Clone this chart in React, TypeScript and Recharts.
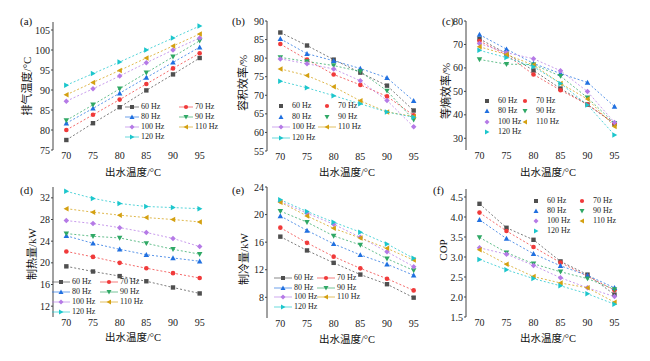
import React from 'react';
import { LineChart, Line, XAxis, YAxis } from 'recharts';

const outletTemps = [70, 75, 80, 85, 90, 95];
const freqLabels = ['60 Hz', '70 Hz', '80 Hz', '90 Hz', '100 Hz', '110 Hz', '120 Hz'];
const seriesColors = ['#4f4f4f', '#f03a3a', '#2070e0', '#2fa865', '#b57ae6', '#d4a011', '#1cc6cc'];
const markerShapes = ['square', 'circle', 'up', 'down', 'diamond', 'left', 'right'];

// one row per frequency, 60 Hz .. 120 Hz
const exhaustTemp = [
  [77.5, 81.7, 85.7, 89.9, 93.9, 98.0],
  [80.0, 83.8, 87.6, 91.5, 95.4, 99.2],
  [81.7, 85.4, 89.2, 93.1, 96.9, 100.7],
  [82.4, 86.3, 90.3, 94.3, 98.3, 102.3],
  [87.2, 90.3, 93.5, 96.8, 100.0, 103.0],
  [88.8, 91.9, 94.9, 98.0, 101.0, 104.0],
  [91.2, 94.1, 97.0, 100.0, 103.0, 106.0],
];

const volumetricEff = [
  [86.9, 83.4, 79.6, 76.1, 72.6, 65.9],
  [83.8, 79.6, 75.6, 72.8, 69.7, 64.6],
  [85.2, 81.2, 79.3, 77.2, 74.7, 68.5],
  [80.2, 79.1, 78.0, 76.4, 71.2, 63.4],
  [79.8, 78.5, 77.1, 73.9, 68.6, 61.5],
  [77.1, 75.3, 72.3, 68.5, 65.5, 64.3],
  [73.8, 72.0, 69.9, 67.7, 65.5, 64.1],
];

const isentropicEff = [
  [72.4, 66.1, 58.9, 51.2, 44.4, 36.1],
  [71.5, 65.5, 57.2, 50.5, 44.4, 36.4],
  [74.2, 68.0, 61.9, 57.6, 53.8, 43.5],
  [63.6, 61.6, 61.4, 56.5, 47.3, 36.4],
  [70.4, 66.5, 63.9, 58.8, 49.9, 36.7],
  [69.0, 65.7, 61.2, 53.4, 46.7, 35.0],
  [67.5, 64.4, 60.5, 53.4, 44.2, 31.4],
];

const heatingCap = [
  [19.35, 18.4, 17.55, 16.6, 15.45, 14.35],
  [22.1, 21.1, 20.0, 19.0, 18.1, 17.2],
  [25.0, 23.6, 22.5, 21.5, 20.9, 20.3],
  [25.4, 24.9, 24.6, 23.6, 22.5, 21.6],
  [27.8, 27.25, 26.5, 25.6, 24.5, 23.0],
  [30.0, 29.35, 28.8, 28.35, 28.0, 27.55],
  [33.2, 31.9, 30.95, 30.4, 30.2, 30.0],
];

const coolingCap = [
  [16.8, 14.8, 13.0, 11.3, 9.9, 7.95],
  [18.1, 15.9, 13.9, 12.2, 10.7, 9.0],
  [19.8, 17.7, 15.75, 14.15, 12.8, 11.2],
  [20.5, 18.9, 16.9, 15.6, 13.6, 11.9],
  [21.9, 20.2, 18.6, 16.7, 14.6, 12.45],
  [21.8, 19.8, 18.0, 16.6, 15.1, 13.4],
  [22.15, 20.45, 18.9, 17.45, 15.75, 13.65],
];

const cop = [
  [4.33, 3.73, 3.43, 2.89, 2.56, 2.06],
  [4.11, 3.65, 3.25, 2.86, 2.52, 2.17],
  [3.93, 3.46, 3.08, 2.78, 2.54, 2.23],
  [3.49, 3.11, 2.83, 2.63, 2.46, 2.19],
  [3.23, 3.07, 2.79, 2.48, 2.23, 2.01],
  [3.18, 2.82, 2.51, 2.35, 2.23, 1.87],
  [2.94, 2.68, 2.46, 2.28, 2.08, 1.82],
];

const serif = "'Liberation Serif', 'Times New Roman', serif";
const cjk = "'Liberation Serif', 'Noto Sans CJK SC', serif";
const xLabel = '出水温度/°C';

function Marker({ shape, cx, cy, color, r = 2.2 }: any) {
  const k = r * 1.25;
  switch (shape) {
    case 'square':
      return <rect x={cx - r} y={cy - r} width={2 * r} height={2 * r} fill={color} />;
    case 'circle':
      return <circle cx={cx} cy={cy} r={r * 1.05} fill={color} />;
    case 'up':
      return <polygon points={`${cx},${cy - k} ${cx + k},${cy + r} ${cx - k},${cy + r}`} fill={color} />;
    case 'down':
      return <polygon points={`${cx},${cy + k} ${cx + k},${cy - r} ${cx - k},${cy - r}`} fill={color} />;
    case 'diamond':
      return <polygon points={`${cx},${cy - k} ${cx + k},${cy} ${cx},${cy + k} ${cx - k},${cy}`} fill={color} />;
    case 'left':
      return <polygon points={`${cx - k},${cy} ${cx + r},${cy - k} ${cx + r},${cy + k}`} fill={color} />;
    default:
      return <polygon points={`${cx + k},${cy} ${cx - r},${cy - k} ${cx - r},${cy + k}`} fill={color} />;
  }
}

const panels = [
  {
    tag: '(a)', series: exhaustTemp, domain: [75, 107], ticks: [75, 80, 85, 90, 95, 100, 105],
    plot: { l: 53, t: 22, r: 213, b: 150 }, ylabel: '排气温度/°C', yl: [27, 86], xl: [133, 173], tagPos: [20, 15],
    legend: { l1: 125, l2: 179, sw: 14, y0: 107, dy: 10, lines: [1, 1, 1, 1, 1, 1, 1] },
  },
  {
    tag: '(b)', series: volumetricEff, domain: [55, 90], ticks: [55, 60, 65, 70, 75, 80, 85, 90],
    plot: { l: 267, t: 21, r: 427, b: 151 }, ylabel: '容积效率/%', yl: [243, 83], xl: [347, 173], tagPos: [232, 15],
    legend: { l1: 272, l2: 318, sw: 18, y0: 106, dy: 10.7, lines: [0, 0, 0, 0, 1, 1, 1] },
  },
  {
    tag: '(c)', series: isentropicEff, domain: [25, 80], ticks: [30, 40, 50, 60, 70, 80],
    plot: { l: 466, t: 21, r: 628, b: 150 }, ylabel: '等熵效率/%', yl: [446, 91], xl: [548, 173], tagPos: [442, 15],
    legend: { l1: 478, l2: 516, sw: 18, y0: 101, dy: 10.3, lines: [0, 0, 0, 0, 0, 0, 0] },
  },
  {
    tag: '(d)', series: heatingCap, domain: [10, 34], ticks: [12, 16, 20, 24, 28, 32],
    plot: { l: 53, t: 187, r: 213, b: 317 }, ylabel: '制热量/kW', yl: [32, 254], xl: [133, 338], tagPos: [20, 184],
    legend: { l1: 52, l2: 100, sw: 18, y0: 282, dy: 10, lines: [1, 1, 1, 1, 1, 1, 1] },
  },
  {
    tag: '(e)', series: coolingCap, domain: [5, 24], ticks: [8, 12, 16, 20, 24],
    plot: { l: 267, t: 187, r: 427, b: 318 }, ylabel: '制冷量/kW', yl: [244, 259], xl: [347, 340], tagPos: [232, 184],
    legend: { l1: 274, l2: 317, sw: 18, y0: 278, dy: 9.7, lines: [1, 1, 1, 1, 1, 1, 1] },
  },
  {
    tag: '(f)', series: cop, domain: [1.5, 4.7], ticks: [1.5, 2.0, 2.5, 3.0, 3.5, 4.0, 4.5],
    plot: { l: 466, t: 189, r: 628, b: 317 }, ylabel: 'COP', yl: [443, 250], xl: [548, 339], tagPos: [433, 184],
    legend: { l1: 527, l2: 573, sw: 18, y0: 201, dy: 10, lines: [0, 0, 0, 0, 0, 0, 0] },
    decimals: 1,
  },
];

function Legend({ lg }: any) {
  return (
    <>
      {freqLabels.map((name, k) => {
        const col = k % 2;
        const row = Math.floor(k / 2);
        const left = col === 0 ? lg.l1 : lg.l2;
        const cy = lg.y0 + row * lg.dy;
        return (
          <div key={name} style={{ position: 'absolute', left, top: cy - 5, height: 10, display: 'flex', alignItems: 'center', whiteSpace: 'nowrap' }}>
            <svg width={lg.sw} height={10} style={{ display: 'block' }}>
              {lg.lines[k] ? <line x1={0} y1={5} x2={lg.sw} y2={5} stroke={seriesColors[k]} strokeOpacity={0.55} strokeWidth={1.2} /> : null}
              <Marker shape={markerShapes[k]} cx={lg.sw / 2} cy={5} color={seriesColors[k]} r={2} />
            </svg>
            <span style={{ marginLeft: 2, fontFamily: serif, fontSize: 8, lineHeight: '10px', color: '#222' }}>{name}</span>
          </div>
        );
      })}
    </>
  );
}

function Panel({ p }: any) {
  const padL = 40, padT = 8, padR = 8, padB = 24;
  const w = p.plot.r - p.plot.l;
  const h = p.plot.b - p.plot.t;
  const rows = outletTemps.map((t, i) => {
    const row: any = { t };
    p.series.forEach((s: number[], k: number) => { row['s' + k] = s[i]; });
    return row;
  });
  const tickStyle = { fontFamily: serif, fontSize: 10, fill: '#222' };
  return (
    <>
      <div style={{ position: 'absolute', left: p.plot.l - padL, top: p.plot.t - padT }}>
        <LineChart width={w + padL + padR} height={h + padT + padB} data={rows} margin={{ top: padT, right: padR, bottom: 0, left: 0 }}>
          <XAxis dataKey="t" type="number" domain={[67.5, 97.5]} ticks={outletTemps} interval={0} height={padB}
            axisLine={false} tickLine={false} tickSize={0} tick={tickStyle} tickMargin={2} allowDataOverflow />
          <YAxis type="number" domain={p.domain} ticks={p.ticks} interval={0} width={padL} allowDataOverflow
            axisLine={{ stroke: '#444', strokeWidth: 1 }} tickLine={{ stroke: '#444' }} tickSize={2} tickMargin={1}
            tick={tickStyle} tickFormatter={(v: number) => (p.decimals ? v.toFixed(p.decimals) : String(v))} />
          {p.series.map((_: number[], k: number) => (
            <Line key={k} dataKey={'s' + k} type="linear" stroke={seriesColors[k]} strokeWidth={1} strokeOpacity={0.75}
              strokeDasharray="2 2" isAnimationActive={false}
              dot={(d: any) => <Marker key={`m${k}-${d.index}`} shape={markerShapes[k]} cx={d.cx} cy={d.cy} color={seriesColors[k]} />}
              activeDot={false} />
          ))}
        </LineChart>
      </div>
      <div style={{ position: 'absolute', left: p.tagPos[0], top: p.tagPos[1], fontFamily: serif, fontSize: 11, lineHeight: '12px', color: '#111' }}>{p.tag}</div>
      <div style={{ position: 'absolute', left: p.yl[0], top: p.yl[1], transform: 'translate(-50%, -50%) rotate(-90deg)', whiteSpace: 'nowrap', fontFamily: cjk, fontSize: 11, lineHeight: '12px', color: '#111' }}>{p.ylabel}</div>
      <div style={{ position: 'absolute', left: p.xl[0], top: p.xl[1], transform: 'translate(-50%, -50%)', whiteSpace: 'nowrap', fontFamily: cjk, fontSize: 10.5, lineHeight: '12px', color: '#111' }}>{xLabel}</div>
      <Legend lg={p.legend} />
    </>
  );
}

export default function App() {
  return (
    <div style={{ position: 'absolute', left: 0, top: 0, width: 650, height: 361, background: '#fff', overflow: 'hidden' }}>
      {panels.map((p) => <Panel key={p.tag} p={p} />)}
    </div>
  );
}
